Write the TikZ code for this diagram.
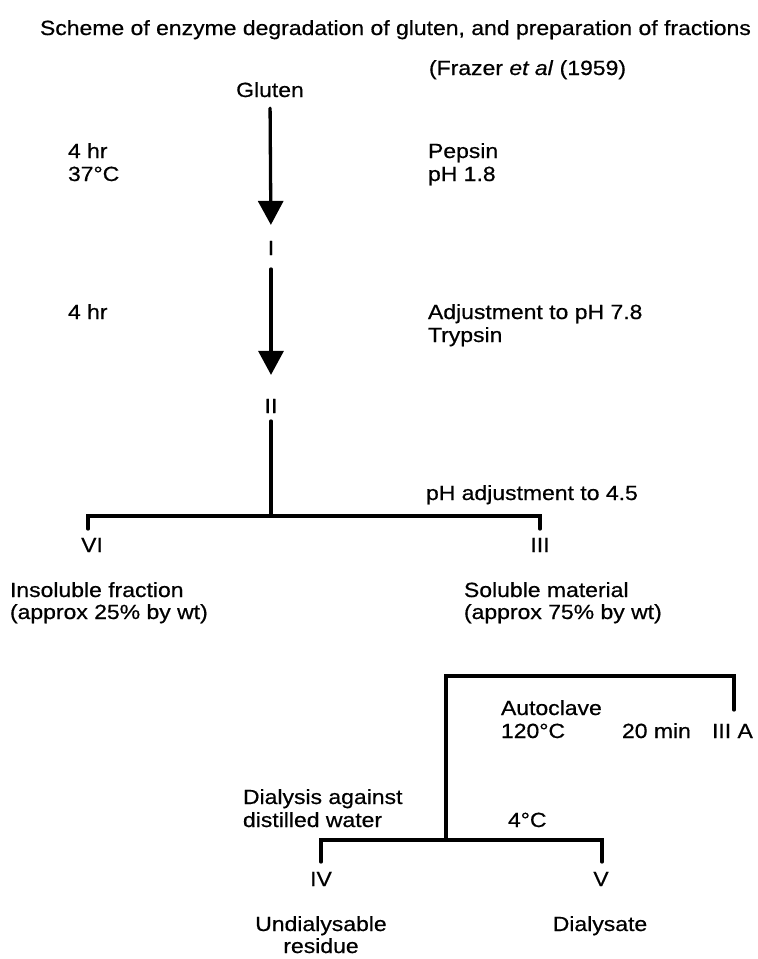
\documentclass[tikz,border=0pt]{standalone}
\usepackage{fontspec}
\setmainfont{Liberation Sans}[FakeStretch=1.12,FakeBold=0.6]
\usetikzlibrary{arrows.meta}
\begin{document}
\begin{tikzpicture}[x=1pt,y=-1pt,
  txt/.style={inner sep=0pt,outer sep=0pt,anchor=base west,font=\fontsize{20.5}{24}\selectfont},
  ctxt/.style={txt,anchor=base},
  ln/.style={line width=3.3pt,line cap=round},
  arr/.style={ln,-{Triangle[width=25pt,length=24pt]}}]
\useasboundingbox (0,0) rectangle (758,959);
% texts
\node[txt] (title) at (40,35) {Scheme of enzyme degradation of gluten, and preparation of fractions};
\node[txt] (ref) at (429,75) {(Frazer \textit{et al} (1959)};
\node[ctxt] (gluten) at (270,97) {Gluten};
\node[txt] (t4a) at (68,158) {4 hr};
\node[txt] (t37) at (68,181) {37°C};
\node[txt] (pep) at (428,158) {Pepsin};
\node[txt] (ph18) at (428,181) {pH 1.8};
\node[ctxt] (I) at (271,255) {I};
\node[txt] (t4b) at (68,319) {4 hr};
\node[txt] (adj) at (428,319) {Adjustment to pH 7.8};
\node[txt] (tryp) at (428,342) {Trypsin};
\node[ctxt] (II) at (271,413) {II};
\node[txt] (ph45) at (426,500) {pH adjustment to 4.5};
\node[ctxt] (VI) at (92,552) {VI};
\node[ctxt] (III) at (540,552) {III};
\node[txt] (ins1) at (10,597) {Insoluble fraction};
\node[txt] (ins2) at (10,619) {(approx 25\% by wt)};
\node[txt] (sol1) at (464,597) {Soluble material};
\node[txt] (sol2) at (464,619) {(approx 75\% by wt)};
\node[txt] (auto) at (501,715) {Autoclave};
\node[txt] (t120) at (501,738) {120°C};
\node[txt] (t20) at (622,738) {20 min};
\node[txt] (IIIA) at (712,738) {III A};
\node[txt] (dia1) at (243,804) {Dialysis against};
\node[txt] (dia2) at (243,827) {distilled water};
\node[txt] (t4c) at (508,827) {4°C};
\node[ctxt] (IV) at (321,886) {IV};
\node[ctxt] (V) at (601,886) {V};
\node[ctxt] (und1) at (321,931) {Undialysable};
\node[ctxt] (und2) at (321,953) {residue};
\node[ctxt] (dsat) at (600,931) {Dialysate};
% connectors
\draw[arr,shorten <=11pt,shorten >=16pt] (gluten.south) -- (I.north);
\draw[arr,shorten <=14pt,shorten >=24pt] (I.south) -- (II.north);
\coordinate (j1) at (271,516);
\coordinate (k6) at (88,529);
\coordinate (k3) at (540,529);
\draw[ln,shorten <=8pt] (II.south) -- (j1);
\draw[ln] (j1) -| (k6);
\draw[ln] (j1) -| (k3);
\coordinate (j2) at (446,676);
\coordinate (k3a) at (734,710);
\coordinate (j3) at (446,840);
\coordinate (k4) at (321,862);
\coordinate (k5) at (602,862);
\draw[ln] (k3a) |- (j2) -- (j3);
\draw[ln] (j3) -| (k4);
\draw[ln] (j3) -| (k5);
\end{tikzpicture}
\end{document}
